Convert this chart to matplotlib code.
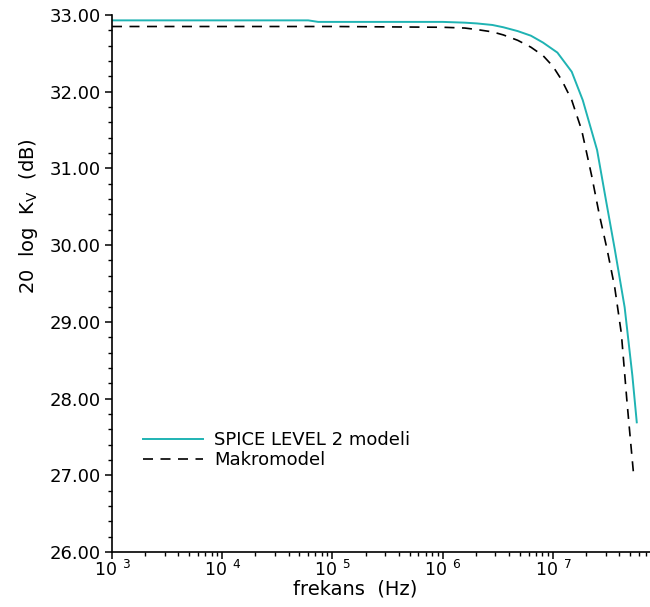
import numpy as np
import matplotlib
matplotlib.use("Agg")
import matplotlib.pyplot as plt
from matplotlib.ticker import FixedLocator, LogLocator, NullFormatter, MultipleLocator

# log10(frequency) and gain values (dB)
spice_logf = [3.0, 4.0, 4.78, 4.87, 5.0, 6.0, 6.2, 6.31, 6.45, 6.55, 6.68, 6.80, 6.91, 7.04, 7.17,
              7.27, 7.40, 7.48, 7.56, 7.65, 7.72, 7.76]
spice_db = [32.93, 32.93, 32.93, 32.91, 32.91, 32.91, 32.90, 32.89, 32.87, 32.84, 32.79, 32.73, 32.64,
            32.51, 32.26, 31.89, 31.24, 30.59, 29.95, 29.19, 28.30, 27.69]

macro_logf = [3.0, 4.0, 5.0, 6.0, 6.2, 6.31, 6.45, 6.55, 6.68, 6.80, 6.91, 7.00, 7.08, 7.17,
              7.26, 7.35, 7.42, 7.49, 7.56, 7.62, 7.67, 7.70, 7.73]
macro_db = [32.85, 32.85, 32.85, 32.84, 32.83, 32.81, 32.78, 32.74, 32.67, 32.58, 32.47, 32.33, 32.15,
            31.89, 31.50, 30.91, 30.40, 29.95, 29.45, 28.85, 27.98, 27.50, 27.03]

legend_labels = ["SPICE LEVEL 2 modeli", "Makromodel"]
yticks = [26, 27, 28, 29, 30, 31, 32, 33]
xtick_exps = [3, 4, 5, 6, 7]

plt.rcParams['font.family'] = ['DejaVu Sans']
plt.rcParams['mathtext.default'] = 'regular'

fig = plt.figure(figsize=(6.5, 6.07), dpi=100)
ax = fig.add_axes([0.1723, 0.0906, 0.8277, 0.8847])

ax.plot(10 ** np.array(spice_logf), spice_db, color='#1fb3b3', lw=1.4, label=legend_labels[0])
ax.plot(10 ** np.array(macro_logf), macro_db, color='black', lw=1.2, dashes=(6, 4.5), label=legend_labels[1])

ax.set_xscale('log')
ax.set_xlim(1e3, 10 ** 7.88)
ax.set_ylim(26, 33)

ax.xaxis.set_major_locator(FixedLocator([10.0 ** e for e in xtick_exps]))
ax.set_xticklabels([r'$10^{\ \,%d}$' % e for e in xtick_exps])
ax.xaxis.set_minor_locator(LogLocator(base=10, subs=np.arange(2, 10), numticks=20))
ax.xaxis.set_minor_formatter(NullFormatter())

ax.yaxis.set_major_locator(FixedLocator(yticks))
ax.set_yticklabels(['%.2f' % v for v in yticks])
ax.yaxis.set_minor_locator(MultipleLocator(0.2))

for s in ['top', 'right']:
    ax.spines[s].set_visible(False)
for s in ['left', 'bottom']:
    ax.spines[s].set_linewidth(1.2)

ax.tick_params(which='major', direction='out', length=5, width=1.1, labelsize=13, pad=3)
ax.tick_params(axis='x', which='major', labelsize=12.5, pad=1)
ax.tick_params(which='minor', direction='out', length=3, width=1.0)

ax.set_xlabel('frekans  (Hz)', fontsize=14, va='center')
ax.xaxis.set_label_coords(0.452, -0.068)
ax.set_ylabel(r'20  log  K$_V$  (dB)', fontsize=14, va='center')
ax.yaxis.set_label_coords(-0.156, 0.626)

ax.legend(loc='upper left', bbox_to_anchor=(0.045, 0.238), frameon=False, fontsize=13,
          handlelength=3.3, handletextpad=0.6, labelspacing=0.1, borderaxespad=0)

fig.savefig('out.png', dpi=100)
